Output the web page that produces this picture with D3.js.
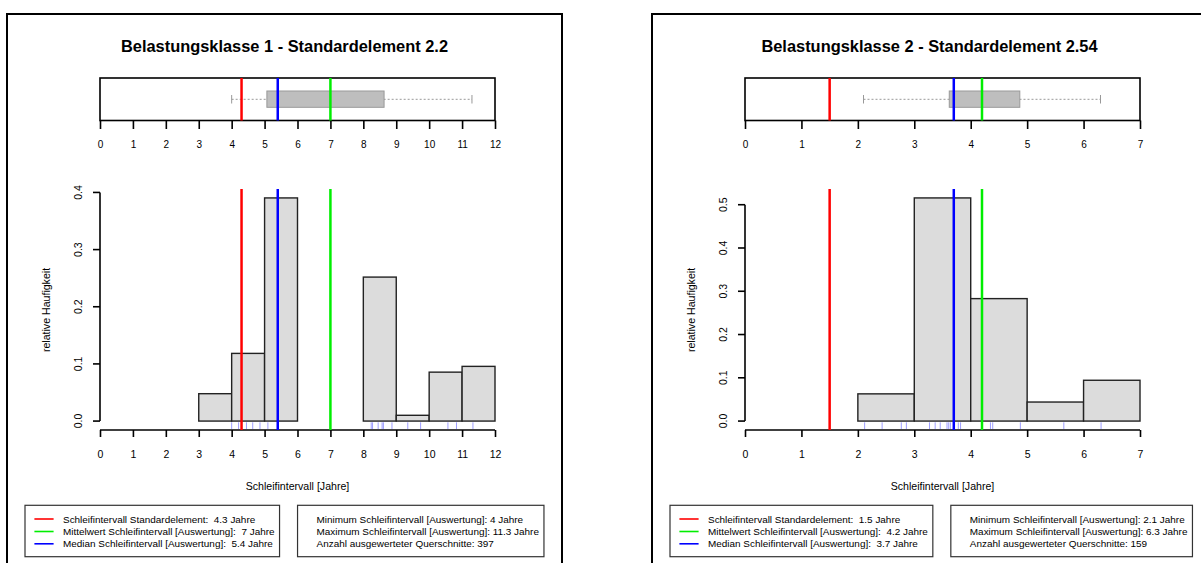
<!DOCTYPE html>
<html>
<head>
<meta charset="utf-8">
<script src="https://cdn.jsdelivr.net/npm/d3@7"></script>
<style>
  html, body { margin: 0; padding: 0; background: #fff; }
  svg { display: block; font-family: "Liberation Sans", Arial, Helvetica, sans-serif; }
  .pre { white-space: pre; }
</style>
</head>
<body>
<svg id="chart" width="1201" height="563"></svg>
<script>
// Panel titles and x-axis extent (years)
const titles = [
  "Belastungsklasse 1 - Standardelement 2.2",
  "Belastungsklasse 2 - Standardelement 2.54"
];
const xMaxes = [12, 7];

// Relative frequencies of the one-year bins [0,1), [1,2), ...
const freqs1 = [0, 0, 0, 0.0479, 0.1184, 0.3904, 0, 0, 0.2519, 0.0101, 0.0856, 0.0957];
const freqs2 = [0, 0, 0.0629, 0.5157, 0.2830, 0.0440, 0.0943];

// y-axis ticks
const yTicks1 = [0, 0.1, 0.2, 0.3, 0.4];
const yTicks2 = [0, 0.1, 0.2, 0.3, 0.4, 0.5];

// Individual grinding intervals shown as a rug
const rug1 = [4.0, 4.21, 4.45, 4.64, 4.86, 5.1, 5.4, 8.24, 8.28, 8.45, 8.57, 8.61, 8.87, 9.35, 9.74, 10.57, 10.83, 11.33];
const rug2 = [2.12, 2.43, 2.77, 2.86, 3.27, 3.37, 3.46, 3.58, 3.61, 3.64, 3.7, 3.78, 3.82, 4.35, 4.39, 4.88, 5.65, 6.31];

// Reference values
const standardValues = [4.3, 1.5];
const meanValues = [7, 4.2];
const medianValues = [5.4, 3.7];
const minValues = [4, 2.1];
const maxValues = [11.3, 6.3];
const quartile1 = [5.07, 3.62];
const quartile3 = [8.63, 4.87];
const counts = [397, 159];

const panels = [
  { freqs: freqs1, yTicks: yTicks1, rug: rug1 },
  { freqs: freqs2, yTicks: yTicks2, rug: rug2 }
];

const svg = d3.select("#chart");
const panelShift = 645;

const fmt = v => String(v);
const fmtTick = d3.format(".1f");

panels.forEach((p, i) => {
  const ox = i * panelShift;
  const g = svg.append("g");
  const xMax = xMaxes[i];

  // panel frame
  const frameX = 7 + ox, frameW = 555;
  g.append("rect")
    .attr("x", frameX).attr("y", 14)
    .attr("width", frameW).attr("height", 580)
    .attr("fill", "none").attr("stroke", "#000").attr("stroke-width", 2);

  const x = d3.scaleLinear().domain([0, xMax]).range([100 + ox, 495 + ox]);
  const cx = (x.range()[0] + x.range()[1]) / 2;

  // title, centred on the panel frame
  g.append("text")
    .attr("x", frameX + frameW / 2).attr("y", 52)
    .attr("text-anchor", "middle")
    .attr("font-weight", "bold").attr("font-size", "16.4px")
    .text(titles[i]);

  // ---------- boxplot strip ----------
  const bTop = 78, bBot = 120.5, bMid = 99.3;
  g.append("rect")
    .attr("x", x(0)).attr("y", bTop)
    .attr("width", x(xMax) - x(0)).attr("height", bBot - bTop)
    .attr("fill", "none").attr("stroke", "#000").attr("stroke-width", 1.6);

  // whiskers
  g.append("line")
    .attr("x1", x(minValues[i])).attr("x2", x(maxValues[i]))
    .attr("y1", bMid).attr("y2", bMid)
    .attr("stroke", "#999").attr("stroke-width", 1).attr("stroke-dasharray", "2,2");
  [minValues[i], maxValues[i]].forEach(v => {
    g.append("line")
      .attr("x1", x(v)).attr("x2", x(v))
      .attr("y1", 95).attr("y2", 103.5)
      .attr("stroke", "#999").attr("stroke-width", 1);
  });
  g.append("rect")
    .attr("x", x(quartile1[i])).attr("y", 91)
    .attr("width", x(quartile3[i]) - x(quartile1[i])).attr("height", 16.3)
    .attr("fill", "#bebebe").attr("stroke", "#999").attr("stroke-width", 1);

  // boxplot axis
  const bAxis = g.append("g")
    .attr("transform", `translate(0,${bBot})`)
    .call(d3.axisBottom(x).tickValues(d3.range(0, xMax + 1)).tickSize(8.5).tickPadding(12).tickFormat(fmt));
  bAxis.select(".domain").remove();
  bAxis.selectAll(".tick line").attr("stroke", "#000").attr("stroke-width", 1.6);
  bAxis.selectAll(".tick text").attr("font-size", "10px").attr("fill", "#000").attr("font-family", null);

  // ---------- histogram ----------
  const fMax = d3.max(p.freqs);
  const y = d3.scaleLinear().domain([-0.04 * fMax, 1.04 * fMax]).range([430, 189]);

  const bins = p.freqs.map((f, k) => ({ x0: k, x1: k + 1, f })).filter(b => b.f > 0);
  g.append("g").selectAll("rect").data(bins).join("rect")
    .attr("x", b => x(b.x0)).attr("y", b => y(b.f))
    .attr("width", b => x(b.x1) - x(b.x0))
    .attr("height", b => y(0) - y(b.f))
    .attr("fill", "#dcdcdc").attr("stroke", "#222").attr("stroke-width", 1.4);

  // rug
  g.append("g").selectAll("line").data(p.rug).join("line")
    .attr("x1", d => x(d)).attr("x2", d => x(d))
    .attr("y1", 422.3).attr("y2", 429)
    .attr("stroke", "rgba(40,40,255,0.45)").attr("stroke-width", 1);

  // x axis
  const xAxis = g.append("g")
    .attr("transform", "translate(0,430)")
    .call(d3.axisBottom(x).tickValues(d3.range(0, xMax + 1)).tickSize(7).tickPadding(14).tickFormat(fmt));
  xAxis.select(".domain").attr("d", `M${x(0)},0H${x(xMax)}`).attr("stroke", "#000").attr("stroke-width", 1.6);
  xAxis.selectAll(".tick line").attr("stroke", "#000").attr("stroke-width", 1.6);
  xAxis.selectAll(".tick text").attr("font-size", "10.5px").attr("fill", "#000").attr("font-family", null);

  // y axis
  const yAxisG = g.append("g").attr("transform", `translate(${x(0)},0)`);
  const yt = p.yTicks;
  yAxisG.append("line")
    .attr("x1", 0).attr("x2", 0)
    .attr("y1", y(yt[0])).attr("y2", y(yt[yt.length - 1]))
    .attr("stroke", "#000").attr("stroke-width", 1.6);
  yAxisG.selectAll("line.tk").data(yt).join("line").attr("class", "tk")
    .attr("x1", -7).attr("x2", 0)
    .attr("y1", d => y(d)).attr("y2", d => y(d))
    .attr("stroke", "#000").attr("stroke-width", 1.6);
  yAxisG.selectAll("text").data(yt).join("text")
    .attr("transform", d => `translate(-18.5,${y(d)}) rotate(-90)`)
    .attr("text-anchor", "middle").attr("font-size", "10.5px")
    .text(d => fmtTick(d));

  // y label
  g.append("text")
    .attr("transform", `translate(${x(0) - 50.5},310) rotate(-90)`)
    .attr("text-anchor", "middle").attr("font-size", "10.6px")
    .text("relative Haufigkeit");

  // x label
  g.append("text")
    .attr("x", cx).attr("y", 490)
    .attr("text-anchor", "middle").attr("font-size", "10.6px")
    .text("Schleifintervall [Jahre]");

  // reference lines: standard element, median, mean
  const refs = [
    { v: standardValues[i], c: "#ff0000" },
    { v: medianValues[i], c: "#0000ff" },
    { v: meanValues[i], c: "#00ee00" }
  ];
  refs.forEach(r => {
    g.append("line")
      .attr("x1", x(r.v)).attr("x2", x(r.v))
      .attr("y1", 189).attr("y2", 430)
      .attr("stroke", r.c).attr("stroke-width", 2.5);
    g.append("line")
      .attr("x1", x(r.v)).attr("x2", x(r.v))
      .attr("y1", bTop).attr("y2", bBot)
      .attr("stroke", r.c).attr("stroke-width", 2.5);
  });

  // ---------- legends ----------
  const rowsY = [522.5, 535, 547.3];
  const legTop = 505.3, legH = 51.4;
  const legFont = "9.95px";

  const leg1Left = 25 + ox;
  const leg1 = g.append("g");
  const box1 = leg1.append("rect");
  const items1 = [
    { c: "#ff0000", t: `Schleifintervall Standardelement:  ${standardValues[i]} Jahre` },
    { c: "#00ee00", t: `Mittelwert Schleifintervall [Auswertung]:  ${meanValues[i]} Jahre` },
    { c: "#0000ff", t: `Median Schleifintervall [Auswertung]:  ${medianValues[i]} Jahre` }
  ];
  let w1 = 0;
  items1.forEach((it, k) => {
    leg1.append("line")
      .attr("x1", leg1Left + 9.4).attr("x2", leg1Left + 28.6)
      .attr("y1", rowsY[k] - 3.5).attr("y2", rowsY[k] - 3.5)
      .attr("stroke", it.c).attr("stroke-width", 1.6);
    const t = leg1.append("text").attr("class", "pre")
      .attr("x", leg1Left + 38).attr("y", rowsY[k])
      .attr("font-size", legFont).text(it.t);
    w1 = Math.max(w1, t.node().getComputedTextLength());
  });
  const leg1W = 38 + w1 + 5;
  box1.attr("x", leg1Left).attr("y", legTop).attr("width", leg1W).attr("height", legH)
    .attr("fill", "#fff").attr("stroke", "#333").attr("stroke-width", 1.2);

  const leg2Left = leg1Left + leg1W + 18;
  const leg2 = g.append("g");
  const box2 = leg2.append("rect");
  const items2 = [
    `Minimum Schleifintervall [Auswertung]: ${minValues[i]} Jahre`,
    `Maximum Schleifintervall [Auswertung]: ${maxValues[i]} Jahre`,
    `Anzahl ausgewerteter Querschnitte: ${counts[i]}`
  ];
  let w2 = 0;
  items2.forEach((txt, k) => {
    const t = leg2.append("text").attr("class", "pre")
      .attr("x", leg2Left + 19).attr("y", rowsY[k])
      .attr("font-size", legFont).text(txt);
    w2 = Math.max(w2, t.node().getComputedTextLength());
  });
  box2.attr("x", leg2Left).attr("y", legTop).attr("width", 19 + w2 + 5).attr("height", legH)
    .attr("fill", "#fff").attr("stroke", "#333").attr("stroke-width", 1.2);
});
</script>
</body>
</html>
